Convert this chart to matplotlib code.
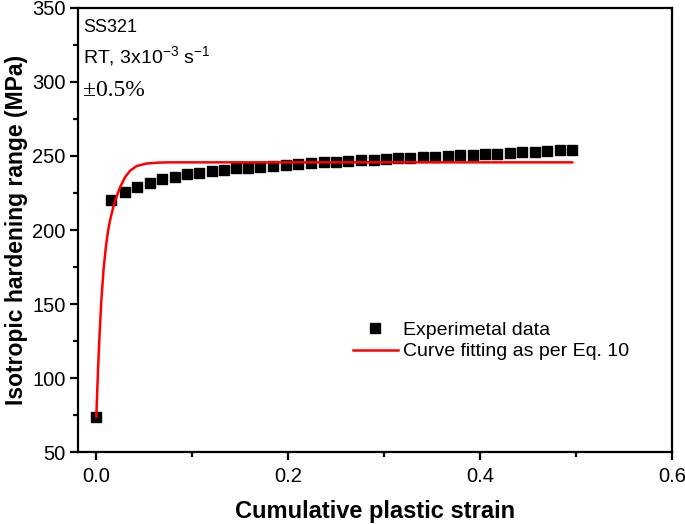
import matplotlib
matplotlib.use("Agg")
import matplotlib.pyplot as plt
from matplotlib.ticker import MultipleLocator

plt.rcParams['font.family'] = ['Liberation Sans', 'DejaVu Sans']

strain_exp = [0.000, 0.0156, 0.0295, 0.0424, 0.0555, 0.0684, 0.0816, 0.0945, 0.1073,
              0.1205, 0.1333, 0.1461, 0.1586, 0.1708, 0.1841, 0.1976, 0.2107, 0.2240,
              0.2368, 0.2500, 0.2628, 0.2757, 0.2889, 0.3018, 0.3149, 0.3271, 0.3403,
              0.3531, 0.3664, 0.3792, 0.3924, 0.4052, 0.4180, 0.4313, 0.4441, 0.4573,
              0.4701, 0.4833, 0.4958]
hard_exp = [74.0, 220.0, 226.0, 229.0, 232.0, 234.4, 236.0, 237.5, 238.7,
            239.8, 240.7, 241.6, 242.1, 242.6, 243.2, 244.0, 244.8, 245.3,
            245.7, 246.2, 246.6, 247.0, 247.5, 248.0, 248.4, 248.9, 249.3,
            249.6, 250.0, 250.4, 250.9, 251.2, 251.6, 252.1, 252.5, 252.9,
            253.4, 253.8, 254.3]

# fitted curve
strain_fit = [0.0, 0.001, 0.002, 0.003, 0.005, 0.0075, 0.010, 0.0125, 0.015,
              0.0177, 0.0211, 0.0247, 0.0299, 0.0351, 0.0420, 0.0524, 0.0646,
              0.0750, 0.10, 0.20, 0.30, 0.40, 0.496]
hard_fit = [74.0, 92.0, 109.0, 124.0, 150.0, 173.0, 189.0, 200.5, 208.5,
            215.5, 222.5, 228.8, 235.6, 240.0, 243.2, 244.9, 245.5,
            245.7, 245.7, 245.7, 245.7, 245.7, 245.7]

fig = plt.figure(figsize=(6.85, 5.24), dpi=100)
ax = fig.add_axes([0.114, 0.137, 0.867, 0.848])

ax.plot(strain_exp, hard_exp, 's', color='black', markersize=7.3, label='Experimetal data',
        zorder=3)
ax.plot(strain_fit, hard_fit, '-', color='red', linewidth=1.8,
        label='Curve fitting as per Eq. 10', zorder=4)

ax.set_xlim(-0.019, 0.6)
ax.set_ylim(50, 350)
ax.xaxis.set_major_locator(MultipleLocator(0.2))
ax.xaxis.set_minor_locator(MultipleLocator(0.1))
ax.yaxis.set_major_locator(MultipleLocator(50))
ax.yaxis.set_minor_locator(MultipleLocator(25))
ax.xaxis.set_major_formatter(plt.FuncFormatter(lambda v, p: f'{v:.1f}'))

for s in ax.spines.values():
    s.set_linewidth(1.6)
ax.tick_params(which='major', direction='out', length=6, width=1.6, labelsize=14.5,
               top=False, right=False)
ax.tick_params(which='minor', direction='out', length=3.5, width=1.6,
               top=False, right=False)
ax.tick_params(axis='x', pad=5)
ax.tick_params(axis='y', pad=3)

ax.set_xlabel('Cumulative plastic strain', fontsize=17, fontweight='bold', labelpad=10)
ax.set_ylabel('Isotropic hardening range (MPa)', fontsize=16.5, fontweight='bold',
              labelpad=3)

ax.text(0.008, 0.955, 'SS321', transform=ax.transAxes, fontsize=13, va='center')
ax.text(0.008, 0.89, r'RT, 3x10$^{\mathregular{-3}}$ s$^{\mathregular{-1}}$',
        transform=ax.transAxes, fontsize=14, va='center')
ax.text(0.008, 0.815, '±0.5%', transform=ax.transAxes, fontsize=17, va='center',
        family=['Liberation Serif', 'DejaVu Serif'])

ax.legend(loc='upper left', bbox_to_anchor=(0.45, 0.312), frameon=False, fontsize=14,
          handlelength=2.3, handletextpad=0.25, labelspacing=0.2, borderaxespad=0)

fig.savefig('out.png', dpi=100)
